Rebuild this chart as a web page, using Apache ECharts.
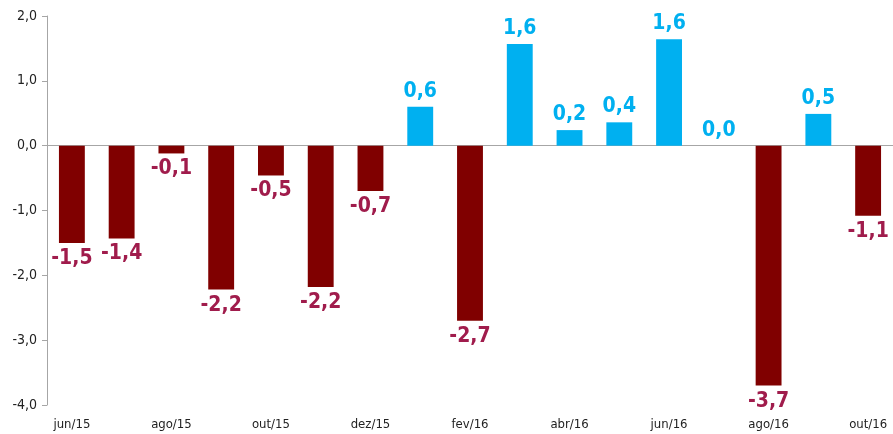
<!DOCTYPE html>
<html>
<head>
<meta charset="utf-8">
<script src="https://cdn.jsdelivr.net/npm/echarts@6/dist/echarts.min.js"></script>
<style>
  html, body { margin: 0; padding: 0; background: #fff; }
  #chart { width: 893px; height: 434px; }
</style>
</head>
<body>
<div id="chart"></div>
<script>
const months = ['jun/15', 'jul/15', 'ago/15', 'set/15', 'out/15', 'nov/15', 'dez/15', 'jan/16',
  'fev/16', 'mar/16', 'abr/16', 'mai/16', 'jun/16', 'jul/16', 'ago/16', 'set/16', 'out/16']
const values = [-1.50, -1.43, -0.12, -2.22, -0.46, -2.18, -0.70, 0.60,
  -2.70, 1.57, 0.24, 0.36, 1.64, 0.0, -3.70, 0.49, -1.08]
const yTicks = [-4, -3, -2, -1, 0, 1, 2]

const NEG_BAR = '#800000'
const NEG_TEXT = '#A01C4C'
const POS = '#00B0F0'
const FONT = '"DejaVu Sans Condensed", "Noto Sans", sans-serif'
const fmt = v => v.toFixed(1).replace('.', ',')

const chart = echarts.init(document.getElementById('chart'))
chart.setOption({
  animation: false,
  grid: { left: 47, right: 0, top: 16, bottom: 29 },
  xAxis: {
    type: 'category',
    data: months,
    axisLine: { onZero: true, lineStyle: { color: '#a6a6a6', width: 1 } },
    axisTick: { interval: 1, length: 5, lineStyle: { color: '#a6a6a6' } },
    axisLabel: {
      interval: 1, color: '#222', fontSize: 13,
      fontFamily: FONT, margin: 13
    }
  },
  yAxis: {
    type: 'value',
    min: yTicks[0],
    max: yTicks[yTicks.length - 1],
    interval: 1,
    splitLine: { show: false },
    axisLine: { show: true, lineStyle: { color: '#a6a6a6' } },
    axisTick: { show: true, length: 5, lineStyle: { color: '#a6a6a6' } },
    axisLabel: {
      color: '#222', fontSize: 14, margin: 10,
      fontFamily: FONT,
      formatter: v => fmt(v)
    }
  },
  series: [{
    type: 'bar',
    barWidth: '52%',
    data: values.map(v => ({
      value: v,
      itemStyle: { color: v < 0 ? NEG_BAR : POS },
      label: {
        position: v < 0 ? 'bottom' : 'top',
        color: v < 0 ? NEG_TEXT : POS
      }
    })),
    label: {
      show: true,
      distance: 5,
      fontSize: 21,
      fontWeight: 'bold',
      fontFamily: FONT,
      formatter: p => fmt(p.value)
    }
  }]
})
</script>
</body>
</html>
